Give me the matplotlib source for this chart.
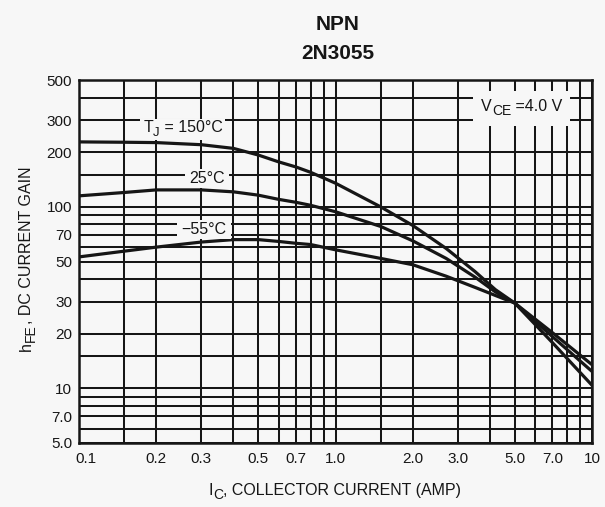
import matplotlib
matplotlib.use("Agg")
import matplotlib.pyplot as plt
from matplotlib.patches import Rectangle
from matplotlib.transforms import Bbox, ScaledTranslation

plt.rcParams['font.family'] = ['Liberation Sans', 'DejaVu Sans']

# Collector current (A) and DC current gain at three junction temperatures
ic = [0.1, 0.15, 0.2, 0.3, 0.4, 0.5, 0.6, 0.7, 0.8, 1.0, 1.5, 2.0, 2.7, 3.5, 4.2, 5.0, 7.0, 10.0]
hfe_150 = [228, 227, 226, 220, 210, 193, 177, 166, 155, 135, 100, 79, 59, 44, 35, 29.5, 17.9, 10.4]
hfe_25 = [115, 120, 124, 124, 121, 116, 110, 106, 102, 94, 78, 65, 52, 41, 34, 29.5, 19.3, 12.4]
hfe_m55 = [53, 57, 60, 64, 66, 66, 64.5, 63, 62, 58, 52, 48, 41.5, 36, 32.5, 29.5, 20.3, 13.5]

# Log-paper rulings and labelled values
x_grid = [0.1, 0.15, 0.2, 0.3, 0.4, 0.5, 0.6, 0.7, 0.8, 0.9,
          1.0, 1.5, 2.0, 3.0, 4.0, 5.0, 6.0, 7.0, 8.0, 9.0, 10.0]
y_grid = [5, 6, 7, 8, 9, 10, 15, 20, 30, 40, 50, 60, 70, 80, 90,
          100, 150, 200, 300, 400, 500]
x_ticks = [0.1, 0.2, 0.3, 0.5, 0.7, 1.0, 2.0, 3.0, 5.0, 7.0, 10.0]
x_ticklabels = ['0.1', '0.2', '0.3', '0.5', '0.7', '1.0', '2.0', '3.0', '5.0', '7.0', '10']
y_ticks = [5, 7, 10, 20, 30, 50, 70, 100, 200, 300, 500]
y_ticklabels = ['5.0', '7.0', '10', '20', '30', '50', '70', '100', '200', '300', '500']

BG = '#f7f7f7'
INK = '#161616'
W, H = 605, 507

fig = plt.figure(figsize=(W / 100, H / 100), dpi=100, facecolor=BG)
ax = fig.add_axes([79 / W, 1 - 443 / H, (592 - 79) / W, (443 - 80) / H])
ax.set_facecolor(BG)
ax.set_xscale('log')
ax.set_yscale('log')
ax.set_xlim(0.1, 10)
ax.set_ylim(5, 500)

for xv in x_grid:
    ax.axvline(xv, color=INK, lw=1.45, zorder=1)
for yv in y_grid:
    ax.axhline(yv, color=INK, lw=1.45, zorder=1)

for hfe in (hfe_150, hfe_25, hfe_m55):
    ax.plot(ic, hfe, color=INK, lw=2.3, solid_capstyle='round',
            solid_joinstyle='round', zorder=3)

for s in ax.spines.values():
    s.set_linewidth(1.8)
    s.set_color(INK)

ax.minorticks_off()
ax.set_xticks(x_ticks)
ax.set_xticklabels(x_ticklabels)
ax.set_yticks(y_ticks)
ax.set_yticklabels(y_ticklabels)
ax.tick_params(axis='both', length=0, labelsize=11, colors=INK)
ax.tick_params(axis='x', pad=6.5)
ax.tick_params(axis='y', pad=5)
first = ax.get_xticklabels()[0]
first.set_transform(first.get_transform() + ScaledTranslation(7 / 100, 0, fig.dpi_scale_trans))

renderer = fig.canvas.get_renderer()
PX = fig.dpi / 72.0


def rich_text(pieces, cx, cy, rotation=0, pad=None):
    """Lay out (text, size, baseline shift in pt) runs centred on display point (cx, cy).

    With pad=(px_x, px_y) a background patch is placed behind the whole run.
    """
    main_size = pieces[0][1]
    arts, lengths = [], []
    for s, size, _ in pieces:
        t = fig.text(0, 0, s, fontsize=size, color=INK, ha='left', va='baseline',
                     rotation=rotation, rotation_mode='anchor', transform=None,
                     zorder=6)
        ext = t.get_window_extent(renderer)
        lengths.append(ext.height if rotation else ext.width)
        arts.append(t)
    cap = 0.72 * main_size * PX
    pos = -sum(lengths) / 2.0
    for t, length, (_, _, dy) in zip(arts, lengths, pieces):
        off = dy * PX
        if rotation:
            t.set_position((cx + cap / 2 - off, cy + pos))
        else:
            t.set_position((cx + pos, cy - cap / 2 + off))
        pos += length
    if pad is not None:
        bb = Bbox.union([t.get_window_extent(renderer) for t in arts])
        fig.add_artist(Rectangle((bb.x0 - pad[0], bb.y0 - pad[1]),
                                 bb.width + 2 * pad[0], bb.height + 2 * pad[1],
                                 transform=None, fc=BG, ec='none', zorder=5))


def data_px(x, y):
    return ax.transData.transform((x, y))


rich_text([('T', 11.5, 0), ('J', 9.5, -2.8), (' = 150°C', 11.5, 0)],
          *data_px(0.254, 278), pad=(3, 1))
rich_text([('25°C', 11.5, 0)], *data_px(0.316, 146), pad=(4, 2))
rich_text([('\u221255°C', 11.5, 0)], *data_px(0.307, 76.5), pad=(4, 2))
rich_text([('V', 11.5, 0), ('CE', 10, -2.8), (' =4.0 V', 11.5, 0)],
          *data_px(5.33, 364), pad=(8, 8))

fig.text(338 / W, 1 - 24.5 / H, 'NPN', fontsize=15, fontweight='bold',
         ha='center', va='center', color=INK)
fig.text(338 / W, 1 - 53.7 / H, '2N3055', fontsize=15, fontweight='bold',
         ha='center', va='center', color=INK)

rich_text([('I', 11.5, 0), ('C', 10, -2.8), (', COLLECTOR CURRENT (AMP)', 11.5, 0)],
          335, H - 489)
rich_text([('h', 11.5, 0), ('FE', 10, -2.8), (', DC CURRENT GAIN', 11.5, 0)],
          25, H - 259, rotation=90)

fig.savefig('out.png', dpi=100, facecolor=BG)
